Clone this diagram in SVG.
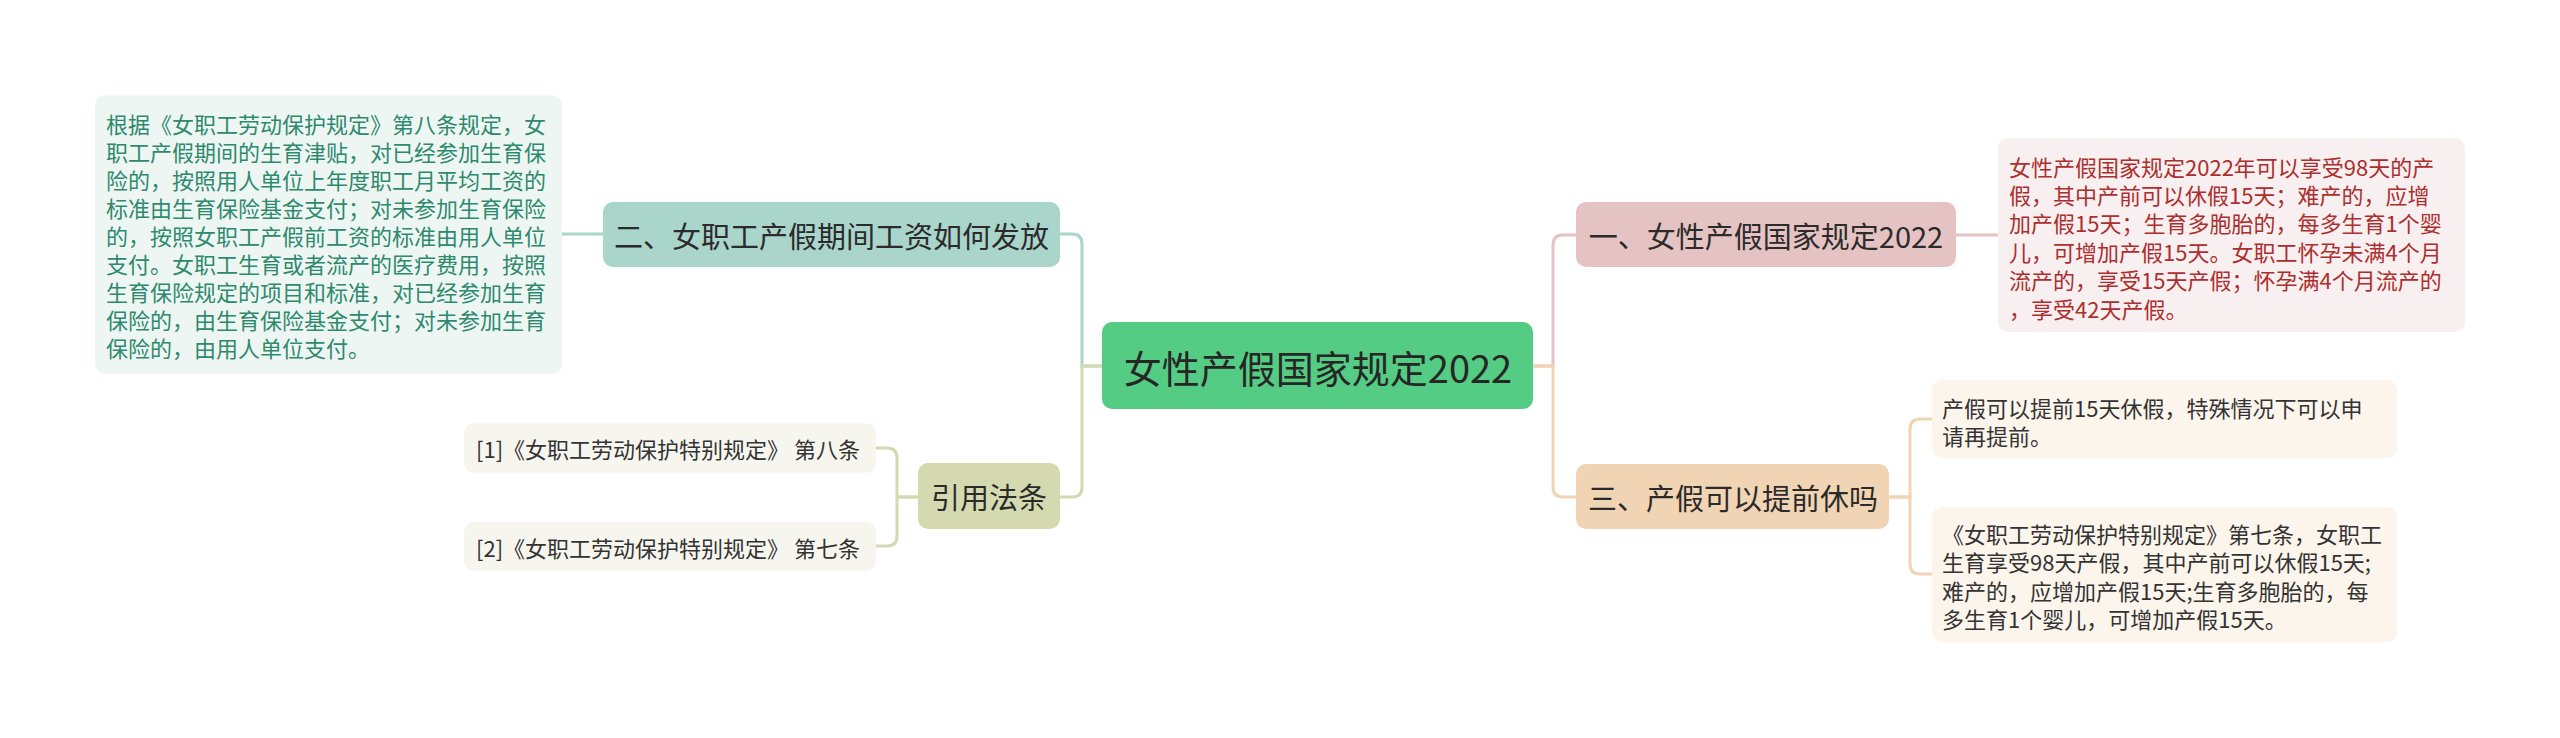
<svg xmlns="http://www.w3.org/2000/svg" width="2560" height="738" viewBox="0 0 2560 738">
<style>
text{font-family:"Noto Sans CJK SC","Noto Sans",sans-serif;dominant-baseline:central}
.t1{font-size:29px;fill:#2b2b2b;text-anchor:middle}
.root{font-size:38px;fill:#262626;text-anchor:middle}
.lf{font-size:22px}
.c{fill:none;stroke-width:3}
</style>
<rect width="2560" height="738" fill="#ffffff"/>
<g id="connectors">
<path class="c" stroke="#a9d5cb" d="M1102,366 H1082 V244 Q1082,234 1072,234 H1060"/>
<path class="c" stroke="#d4d9b0" d="M1102,366 H1082 V487 Q1082,497 1072,497 H1060"/>
<path class="c" stroke="#e6c3c3" d="M1533,366 H1553 V245 Q1553,235 1563,235 H1576"/>
<path class="c" stroke="#f1d4b3" d="M1533,366 H1553 V487 Q1553,497 1563,497 H1576"/>
<path class="c" stroke="#a9d5cb" d="M603,234 H562"/>
<path class="c" stroke="#e6c3c3" d="M1956,235 H1998"/>
<path class="c" stroke="#d4d9b0" d="M918,497 H897 V458 Q897,448 887,448 H876"/>
<path class="c" stroke="#d4d9b0" d="M918,497 H897 V536 Q897,546 887,546 H876"/>
<path class="c" stroke="#f1d4b3" d="M1889,497 H1910 V429 Q1910,419 1920,419 H1932"/>
<path class="c" stroke="#f1d4b3" d="M1889,497 H1910 V564 Q1910,574 1920,574 H1932"/>
</g>
<g id="root">
<rect x="1102" y="322" width="431" height="87" rx="10" fill="#54cc84"/>
<text class="root" x="1318" y="366">女性产假国家规定2022</text>
</g>
<g id="n2">
<rect x="603" y="202" width="457" height="65" rx="10" fill="#a9d5cb"/>
<text class="t1" x="831.5" y="234.5">二、女职工产假期间工资如何发放</text>
</g>
<g id="n2-leaf">
<rect x="95" y="95" width="467" height="279" rx="10" fill="#eef6f4"/>
<text class="lf" fill="#2e8a6c">
<tspan x="106" y="122.5">根据《女职工劳动保护规定》第八条规定，女</tspan>
<tspan x="106" y="150.5">职工产假期间的生育津贴，对已经参加生育保</tspan>
<tspan x="106" y="178.5">险的，按照用人单位上年度职工月平均工资的</tspan>
<tspan x="106" y="206.5">标准由生育保险基金支付；对未参加生育保险</tspan>
<tspan x="106" y="234.5">的，按照女职工产假前工资的标准由用人单位</tspan>
<tspan x="106" y="262.5">支付。女职工生育或者流产的医疗费用，按照</tspan>
<tspan x="106" y="290.5">生育保险规定的项目和标准，对已经参加生育</tspan>
<tspan x="106" y="318.5">保险的，由生育保险基金支付；对未参加生育</tspan>
<tspan x="106" y="346.5">保险的，由用人单位支付。</tspan>
</text>
</g>
<g id="cite">
<rect x="918" y="463" width="142" height="66" rx="10" fill="#d4d9b0"/>
<text class="t1" x="989" y="496">引用法条</text>
</g>
<g id="cite-1">
<rect x="464" y="423" width="412" height="50" rx="10" fill="#f6f6ef"/>
<text class="lf" fill="#333333" x="476" y="448">[1]《女职工劳动保护特别规定》 第八条</text>
</g>
<g id="cite-2">
<rect x="464" y="522" width="412" height="49" rx="10" fill="#f6f6ef"/>
<text class="lf" fill="#333333" x="476" y="546.5">[2]《女职工劳动保护特别规定》 第七条</text>
</g>
<g id="n1">
<rect x="1576" y="202" width="380" height="65" rx="10" fill="#e6c3c3"/>
<text class="t1" x="1766" y="234.5">一、女性产假国家规定2022</text>
</g>
<g id="n1-leaf">
<rect x="1998" y="138" width="467" height="194" rx="10" fill="#f8f0f0"/>
<text class="lf" fill="#ad2e2e">
<tspan x="2009" y="165.5">女性产假国家规定2022年可以享受98天的产</tspan>
<tspan x="2009" y="193.9">假，其中产前可以休假15天；难产的，应增</tspan>
<tspan x="2009" y="222.3">加产假15天；生育多胞胎的，每多生育1个婴</tspan>
<tspan x="2009" y="250.7">儿，可增加产假15天。女职工怀孕未满4个月</tspan>
<tspan x="2009" y="279.1">流产的，享受15天产假；怀孕满4个月流产的</tspan>
<tspan x="2009" y="307.5">，享受42天产假。</tspan>
</text>
</g>
<g id="n3">
<rect x="1576" y="464" width="313" height="65" rx="10" fill="#f1d4b3"/>
<text class="t1" x="1733" y="496.5">三、产假可以提前休吗</text>
</g>
<g id="n3-leaf-1">
<rect x="1932" y="380" width="465" height="78" rx="10" fill="#fcf5ec"/>
<text class="lf" fill="#333333">
<tspan x="1942" y="407">产假可以提前15天休假，特殊情况下可以申</tspan>
<tspan x="1942" y="435">请再提前。</tspan>
</text>
</g>
<g id="n3-leaf-2">
<rect x="1932" y="507" width="465" height="135" rx="10" fill="#fcf5ec"/>
<text class="lf" fill="#333333">
<tspan x="1942" y="533">《女职工劳动保护特别规定》第七条，女职工</tspan>
<tspan x="1942" y="561.3">生育享受98天产假，其中产前可以休假15天;</tspan>
<tspan x="1942" y="589.6">难产的，应增加产假15天;生育多胞胎的，每</tspan>
<tspan x="1942" y="618">多生育1个婴儿，可增加产假15天。</tspan>
</text>
</g>
</svg>
